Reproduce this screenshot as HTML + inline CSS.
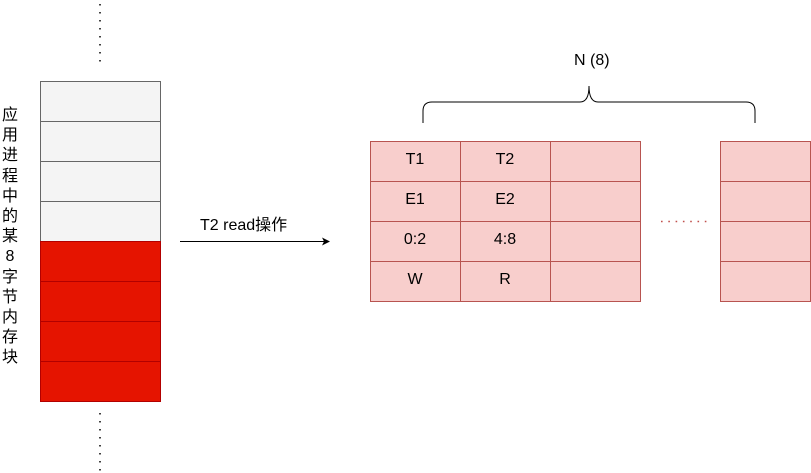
<!DOCTYPE html>
<html><head><meta charset="utf-8"><style>
body{margin:0;width:811px;height:473px;background:#fff;position:relative;overflow:hidden;font-family:"Liberation Sans","Noto Sans CJK SC",sans-serif;}
.t{position:absolute;font-size:16px;color:#000;}
.v{position:absolute;left:0;top:106px;width:20px;font-size:16px;line-height:20.2px;text-align:center;}
</style></head><body>
<svg width="811" height="473" style="position:absolute;left:0;top:0">
<line x1="100" y1="4" x2="100" y2="62" stroke="#000" stroke-width="1.5" stroke-dasharray="1.5,6.5"/>
<line x1="100" y1="413" x2="100" y2="472" stroke="#000" stroke-width="1.5" stroke-dasharray="1.5,6.5"/>
<g stroke="#666" fill="#f4f4f4">
<rect x="40.5" y="81.5" width="120" height="40"/>
<rect x="40.5" y="121.5" width="120" height="40"/>
<rect x="40.5" y="161.5" width="120" height="40"/>
<rect x="40.5" y="201.5" width="120" height="40"/>
</g>
<g stroke="#b20000" fill="#e51400">
<rect x="40.5" y="241.5" width="120" height="40"/>
<rect x="40.5" y="281.5" width="120" height="40"/>
<rect x="40.5" y="321.5" width="120" height="40"/>
<rect x="40.5" y="361.5" width="120" height="40"/>
</g>
<line x1="180" y1="241.5" x2="325" y2="241.5" stroke="#000"/>
<path d="M330 241.5 L322 237.5 L324 241.5 L322 245.5 Z" fill="#000"/>
<g stroke="#b85450" fill="#f8cecc">
<rect x="370.5" y="141.5" width="90" height="40"/><rect x="460.5" y="141.5" width="90" height="40"/><rect x="550.5" y="141.5" width="90" height="40"/>
<rect x="370.5" y="181.5" width="90" height="40"/><rect x="460.5" y="181.5" width="90" height="40"/><rect x="550.5" y="181.5" width="90" height="40"/>
<rect x="370.5" y="221.5" width="90" height="40"/><rect x="460.5" y="221.5" width="90" height="40"/><rect x="550.5" y="221.5" width="90" height="40"/>
<rect x="370.5" y="261.5" width="90" height="40"/><rect x="460.5" y="261.5" width="90" height="40"/><rect x="550.5" y="261.5" width="90" height="40"/>
<rect x="720.5" y="141.5" width="90" height="40"/><rect x="720.5" y="181.5" width="90" height="40"/><rect x="720.5" y="221.5" width="90" height="40"/><rect x="720.5" y="261.5" width="90" height="40"/>
</g>
<line x1="661" y1="221.5" x2="711" y2="221.5" stroke="#c0504d" stroke-width="1.6" stroke-dasharray="1.6,5.7"/>
<path d="M423 123 L423 111 Q423 102 432 102 L580 102 Q589 102 589 86 Q589 102 598 102 L746 102 Q755 102 755 111 L755 123" fill="none" stroke="#000"/>
</svg>
<div class="v">应<br>用<br>进<br>程<br>中<br>的<br>某<br>8<br>字<br>节<br>内<br>存<br>块</div>
<div class="t" style="left:200px;top:211px">T2 read操作</div>
<div class="t" style="left:574px;top:52px">N (8)</div>
<div class="t" style="left:370px;top:151px;width:90px;text-align:center">T1</div>
<div class="t" style="left:460px;top:151px;width:90px;text-align:center">T2</div>
<div class="t" style="left:370px;top:191px;width:90px;text-align:center">E1</div>
<div class="t" style="left:460px;top:191px;width:90px;text-align:center">E2</div>
<div class="t" style="left:370px;top:231px;width:90px;text-align:center">0:2</div>
<div class="t" style="left:460px;top:231px;width:90px;text-align:center">4:8</div>
<div class="t" style="left:370px;top:271px;width:90px;text-align:center">W</div>
<div class="t" style="left:460px;top:271px;width:90px;text-align:center">R</div>
</body></html>
